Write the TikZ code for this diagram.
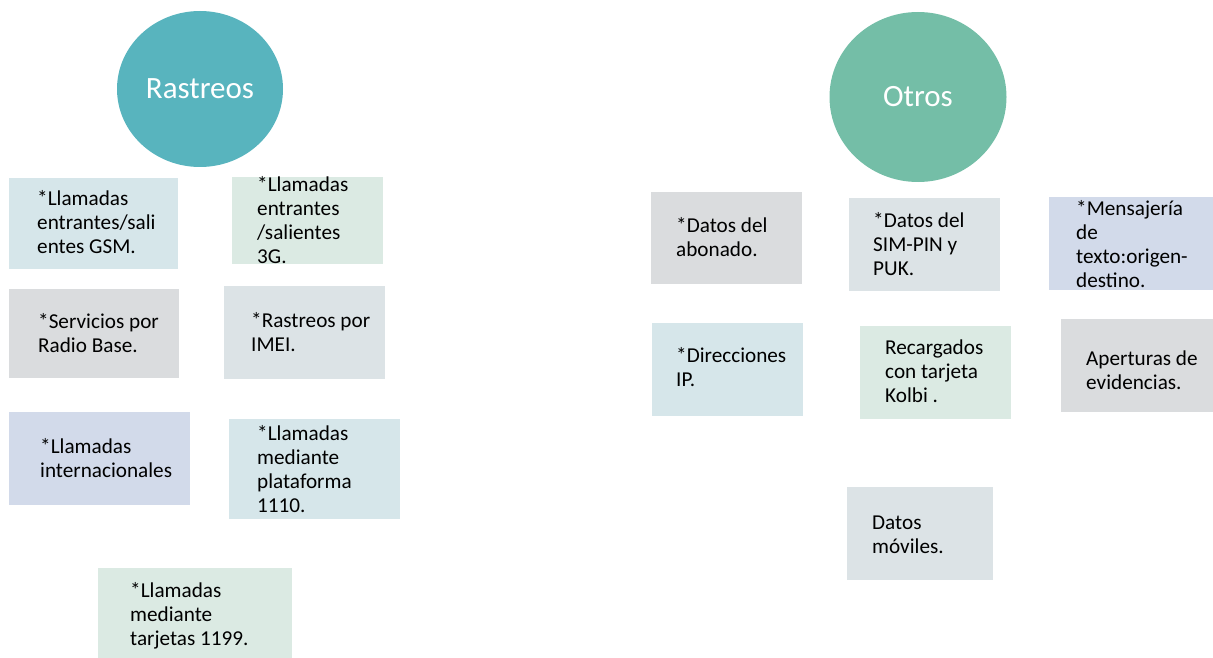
\documentclass[tikz,border=0pt]{standalone}
\usepackage{fontspec}
\setmainfont{Carlito}
\usetikzlibrary{shapes.geometric,positioning}
\definecolor{azulclaro}{RGB}{214,230,234}
\definecolor{verdeclaro}{RGB}{219,234,227}
\definecolor{grisclaro}{RGB}{218,220,222}
\definecolor{grisazul}{RGB}{220,227,230}
\definecolor{lavanda}{RGB}{210,218,234}
\definecolor{turquesa}{RGB}{88,180,190}
\definecolor{verdemar}{RGB}{116,190,167}
\tikzset
{
    caja/.style    = {rectangle, draw=none, inner sep=0pt, anchor=north west},
    texto/.style   = {align=left, inner sep=0pt, anchor=base west, font=\fontsize{21.2}{23.7}\selectfont},
    circulo/.style = {ellipse, inner sep=0pt, text=white, font=\fontsize{31}{36}\selectfont}
}
\begin{document}
\begin{tikzpicture}[x=1pt, y=-1pt]
    \useasboundingbox (0,0) rectangle (1213,658);
    % Rastreos (texto anclado en la linea base de la ultima linea)
    \node [circulo, fill=turquesa, minimum width=166pt, minimum height=156pt] (rastreos) at (200,89) {Rastreos};
    \node [caja, fill=azulclaro, minimum width=169pt, minimum height=91pt] (gsm) at (9,178) {};
    \node [texto] (gsm-txt) at (37,253) {*Llamadas\\entrantes/sali\\entes GSM.};
    \node [caja, fill=verdeclaro, minimum width=151pt, minimum height=87pt] (tresg) at (232,177) {};
    \node [texto] (tresg-txt) at (257,263) {*Llamadas\\entrantes\\/salientes\\3G.};
    \node [caja, fill=grisclaro, minimum width=170pt, minimum height=89pt] (radiobase) at (9,289) {};
    \node [texto] (radiobase-txt) at (38,352) {*Servicios por\\Radio Base.};
    \node [caja, fill=grisazul, minimum width=161pt, minimum height=93pt] (imei) at (224,286) {};
    \node [texto] (imei-txt) at (251,351) {*Rastreos por\\IMEI.};
    \node [caja, fill=lavanda, minimum width=181pt, minimum height=93pt] (internac) at (9,412) {};
    \node [texto] (internac-txt) at (40,477) {*Llamadas\\internacionales};
    \node [caja, fill=azulclaro, minimum width=171pt, minimum height=100pt] (plataforma) at (229,419) {};
    \node [texto] (plataforma-txt) at (257,512) {*Llamadas\\mediante\\plataforma\\1110.};
    \node [caja, fill=verdeclaro, minimum width=194pt, minimum height=90pt] (tarjetas) at (98,568) {};
    \node [texto] (tarjetas-txt) at (130,645) {*Llamadas\\mediante\\tarjetas 1199.};
    % Otros
    \node [circulo, fill=verdemar, minimum width=177pt, minimum height=170pt] (otros) at (918,97) {Otros};
    \node [caja, fill=grisclaro, minimum width=151pt, minimum height=92pt] (abonado) at (651,192) {};
    \node [texto] (abonado-txt) at (676,256) {*Datos del\\abonado.};
    \node [caja, fill=grisazul, minimum width=151pt, minimum height=93pt] (simpin) at (849,198) {};
    \node [texto] (simpin-txt) at (873,275) {*Datos del\\SIM-PIN y\\PUK.};
    \node [caja, fill=lavanda, minimum width=164pt, minimum height=93pt] (mensajeria) at (1049,197) {};
    \node [texto] (mensajeria-txt) at (1076,287) {*Mensajería\\de\\texto:origen-\\destino.};
    \node [caja, fill=azulclaro, minimum width=151pt, minimum height=93pt] (direcciones) at (652,323) {};
    \node [texto] (direcciones-txt) at (676,386) {*Direcciones\\IP.};
    \node [caja, fill=verdeclaro, minimum width=151pt, minimum height=93pt] (recargados) at (860,326) {};
    \node [texto] (recargados-txt) at (885,402) {Recargados\\con tarjeta\\Kolbi .};
    \node [caja, fill=grisclaro, minimum width=152pt, minimum height=93pt] (aperturas) at (1061,319) {};
    \node [texto] (aperturas-txt) at (1086,389) {Aperturas de\\evidencias.};
    \node [caja, fill=grisazul, minimum width=146pt, minimum height=93pt] (moviles) at (847,487) {};
    \node [texto] (moviles-txt) at (872,553) {Datos\\móviles.};
\end{tikzpicture}
\end{document}
